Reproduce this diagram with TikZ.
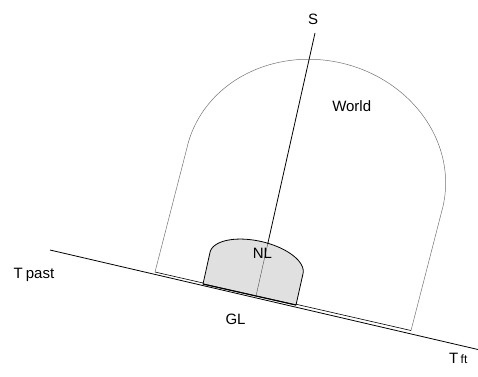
\documentclass[tikz,border=0pt]{standalone}
\usepackage{fontspec}
\setmainfont{Liberation Sans}
\begin{document}
\begin{tikzpicture}[x=1pt,y=-1pt,
  lbl/.style={font=\fontsize{15}{18}\selectfont, inner sep=0pt},
  worldline/.style={draw=black!55, line width=0.5pt},
  baseline/.style={draw=black, line width=0.6pt},
  timeline/.style={draw=black, line width=0.8pt},
  nlshape/.style={draw=black, fill=black!12, line width=0.8pt},
  sline/.style={draw=black, line width=0.8pt},
  slinein/.style={draw=black!70, line width=0.4pt}]
\useasboundingbox (0,0) rectangle (478,376);
% time line
\coordinate (tpast) at (50,250);
\coordinate (tft) at (478,349.5);
\draw[timeline] (tpast) -- (tft);
% World dome
\coordinate (wl) at (155,272);
\coordinate (wr) at (411,330.5);
\draw[worldline] (wl) -- (187,147.75)
  -- plot[domain=180:0,samples=91] ({315+131.3*cos(\x)*0.975+117*sin(\x)*0.2228},{177+131.3*cos(\x)*0.2228-117*sin(\x)*0.975})
  -- (wr);
\draw[baseline] (wl) -- (wr);
% NL
\coordinate (nll) at (203,284);
\coordinate (nlr) at (296,305);
\path[nlshape] (nll) -- (210,252.4)
  -- plot[domain=180:0,samples=61] ({256.5+47.7*cos(\x)*0.975+22*sin(\x)*0.2228},{263+47.7*cos(\x)*0.2228-22*sin(\x)*0.975})
  -- (nlr) -- cycle;
\draw[line width=1.1pt] (nll) -- (nlr);
% S line
\coordinate (stop) at (315,33);
\coordinate (snl) at (267.7,244);
\coordinate (sbot) at (256,296);
\draw[sline] (stop) -- (snl);
\draw[slinein] (snl) -- (sbot);
% labels
\node[lbl, anchor=base] (S) at (313,24.7) {S};
\node[lbl, anchor=base] (world) at (351.7,111.7) {World};
\node[lbl, anchor=base] (NL) at (262.5,258.3) {NL};
\node[lbl, anchor=base] (GL) at (235.5,324) {GL};
\node[lbl, anchor=base west] (Tpast) at (13.5,278.3) {T\hspace{3pt}past};
\node[lbl, anchor=base west] (Tft) at (448.8,363.3) {T\hspace{2.5pt}{\fontsize{12}{14}\selectfont ft}};
\end{tikzpicture}
\end{document}
